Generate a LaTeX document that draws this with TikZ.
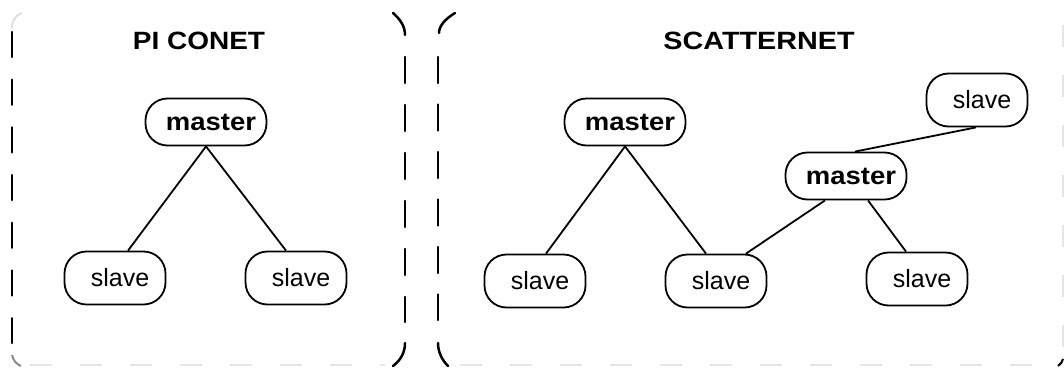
\documentclass[tikz,border=0pt]{standalone}
\usepackage{graphicx}
\usepackage{fontspec}
\setmainfont{Liberation Sans}
\begin{document}
\begin{tikzpicture}[x=1pt,y=-1pt,
  box/.style={draw, line width=1.8pt, rounded corners=22pt, inner sep=0pt,
    font=\fontsize{25}{30}\selectfont},
  masterbox/.style={box, minimum width=121pt, minimum height=47pt},
  slavebox/.style={box, minimum width=101pt, minimum height=53pt},
  link/.style={line width=1.8pt},
  border/.style={line width=2.5pt, line cap=round},
  faint/.style={line width=2pt, draw=black!10, dash pattern=on 22pt off 28pt},
  title/.style={font=\fontsize{25}{30}\selectfont\bfseries},
]
\useasboundingbox (0,0) rectangle (1064,367);

% titles
\node[title] (t1) at (199,41) {\scalebox{1.12}[1]{PI CONET}};
\node[title] (t2) at (759,41) {\scalebox{1.15}[1]{SCATTERNET}};

% piconet
\node[masterbox] (lm)  at (206,122) {\hspace*{10pt}\scalebox{1.1}[1]{\bfseries master}};
\node[slavebox]  (ls1) at (115,278) {\hspace*{10pt}slave};
\node[slavebox]  (ls2) at (296,278) {\hspace*{10pt}slave};
\draw[link] (lm.south) -- ([xshift=13pt]ls1.north);
\draw[link] (lm.south) -- ([xshift=-10pt]ls2.north);

% scatternet
\node[masterbox] (rm1) at (625,122) {\hspace*{10pt}\scalebox{1.1}[1]{\bfseries master}};
\node[slavebox]  (rs1) at (535,281) {\hspace*{10pt}slave};
\node[slavebox]  (rs2) at (716,281) {\hspace*{10pt}slave};
\node[masterbox] (rm2) at (846,176) {\hspace*{10pt}\scalebox{1.1}[1]{\bfseries master}};
\node[slavebox]  (rs3) at (977,100) {\hspace*{10pt}slave};
\node[slavebox]  (rs4) at (917,279) {\hspace*{10pt}slave};
\draw[link] (rm1.south) -- ([xshift=11pt]rs1.north);
\draw[link] (rm1.south) -- ([xshift=-10pt]rs2.north);
\draw[link] ([xshift=30pt]rs2.north) -- ([xshift=-21pt]rm2.south);
\draw[link] ([xshift=22pt]rm2.south) -- ([xshift=-11pt]rs4.north);
\draw[link] ([xshift=9pt]rm2.north) -- ([xshift=-1pt]rs3.south);

% piconet frame
\draw[line width=2pt, draw=black!12] (12,28) .. controls (12,20) and (16,15) .. (22,13);
\draw[border, dash pattern=on 25pt off 22.7pt] (12,32) -- (12,343);
\draw[line width=2pt, draw=black!45] (12,355) .. controls (13,360) and (16,364) .. (21,366);
\draw[faint] (30,365) -- (385,365);
\draw[border] (393,13) .. controls (401,20) and (405,27) .. (405,35);
\draw[border, dash pattern=on 26pt off 22pt] (405,57) -- (405,322);
\draw[border] (405,343) .. controls (405,352) and (401,360) .. (393,366);

% scatternet frame
\draw[border] (455,13) .. controls (445,19) and (439,26) .. (439,33);
\draw[border, dash pattern=on 26pt off 21.5pt] (438,57) -- (438,320);
\draw[border] (438,343) .. controls (438,352) and (442,360) .. (448,366);
\draw[faint] (460,365) -- (1052,365);
\draw[faint] (1063,25) -- (1063,350);
\draw[line width=2pt] (1063,359) .. controls (1062,362) and (1061,364) .. (1058,366);
\end{tikzpicture}
\end{document}
